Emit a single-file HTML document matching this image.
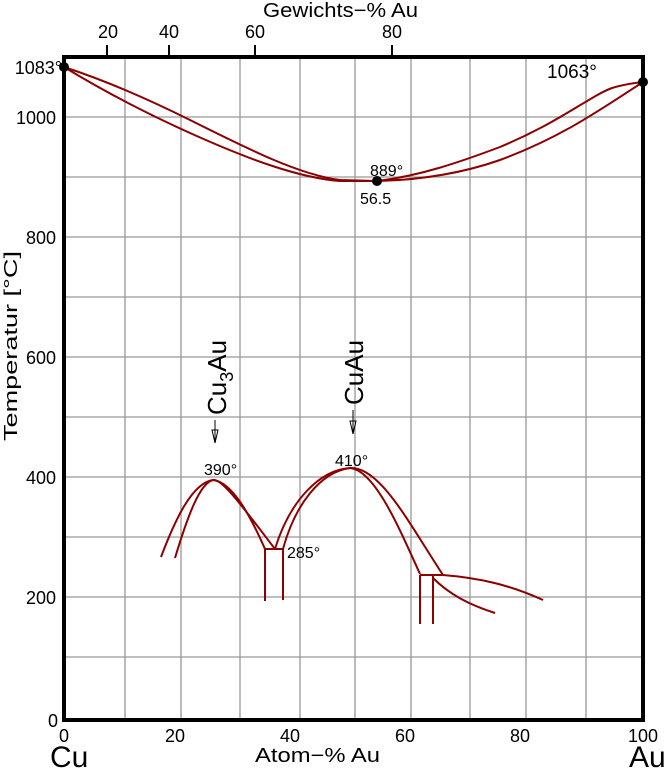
<!DOCTYPE html>
<html><head><meta charset="utf-8"><style>
body{margin:0;background:#fff}
svg{display:block;font-family:"Liberation Sans",sans-serif}
</style></head><body>
<svg width="672" height="768" viewBox="0 0 672 768" xmlns="http://www.w3.org/2000/svg">
<g stroke="#999" stroke-width="1.3">
<line x1="125" y1="57" x2="125" y2="720"/><line x1="181" y1="57" x2="181" y2="720"/>
<line x1="240" y1="57" x2="240" y2="720"/><line x1="300" y1="57" x2="300" y2="720"/>
<line x1="355" y1="57" x2="355" y2="720"/><line x1="411" y1="57" x2="411" y2="720"/>
<line x1="470" y1="57" x2="470" y2="720"/><line x1="526" y1="57" x2="526" y2="720"/>
<line x1="586" y1="57" x2="586" y2="720"/>
<line x1="64" y1="117" x2="643" y2="117"/><line x1="64" y1="177" x2="643" y2="177"/>
<line x1="64" y1="237" x2="643" y2="237"/><line x1="64" y1="297" x2="643" y2="297"/>
<line x1="64" y1="357" x2="643" y2="357"/><line x1="64" y1="417" x2="643" y2="417"/>
<line x1="64" y1="477" x2="643" y2="477"/><line x1="64" y1="537" x2="643" y2="537"/>
<line x1="64" y1="597" x2="643" y2="597"/><line x1="64" y1="657" x2="643" y2="657"/>
</g>
<g fill="none" stroke="#8b0000" stroke-width="2">
<path d="M64,67 C110,82 150,100 190,120 C250,150 300,175 340,180 L377,181"/>
<path d="M64,67 C110,95 150,115 190,133 C250,160 300,178 340,181 L377,181"/>
<path d="M377,181 C420,176 460,162 500,147 C560,122 590,96 612,88 C625,84 635,83 643,82"/>
<path d="M377,181 C420,180 460,174 500,160 C560,138 600,110 643,82"/>
<path d="M161,557 C175,520 192,483 213,480 C232,482 250,515 265,549"/>
<path d="M175,558 C188,515 200,483 213,480 C222,478 245,510 275,549"/>
<path d="M265,549 L283,549 M265,549 L265,601 M283,549 L283,600"/>
<path d="M275,549 C290,500 320,470 350,468 C375,470 400,530 420,574"/>
<path d="M283,549 C295,505 320,472 350,468 C380,466 410,525 443,575"/>
<path d="M420,575 L443,575 M420,575 L420,624 M433,575 L433,624"/>
<path d="M443,575 C480,578 510,585 543,600"/>
<path d="M433,578 C450,595 470,605 495,613"/>
</g>
<g fill="none" stroke="#000" stroke-width="1">
<path d="M215,420 L215,443 M212,430 L215,443 L218,430 Z"/>
<path d="M353,410 L353,434 M350,421 L353,434 L356,421 Z"/>
</g>
<rect x="64" y="57" width="579" height="663" fill="none" stroke="#000" stroke-width="4"/>
<g stroke="#000" stroke-width="2"><line x1="107" y1="45" x2="107" y2="57"/><line x1="169" y1="45" x2="169" y2="57"/><line x1="255" y1="45" x2="255" y2="57"/><line x1="392" y1="45" x2="392" y2="57"/></g>
<circle cx="64" cy="67" r="5"/><circle cx="377" cy="181" r="5"/><circle cx="643" cy="82" r="5"/>
<g font-size="18" fill="#000">
<text x="263" y="17" font-size="20" textLength="155" lengthAdjust="spacingAndGlyphs">Gewichts−% Au</text>
<text x="108" y="38" text-anchor="middle">20</text><text x="169" y="38" text-anchor="middle">40</text>
<text x="255" y="38" text-anchor="middle">60</text><text x="392" y="38" text-anchor="middle">80</text>
<g text-anchor="end"><text x="62" y="74">1083°</text><text x="56" y="124">1000</text><text x="56" y="244">800</text>
<text x="56" y="364">600</text><text x="56" y="484">400</text><text x="56" y="604">200</text><text x="58" y="727">0</text></g>
<text x="547" y="78" font-size="19">1063°</text>
<g text-anchor="middle"><text x="64" y="742">0</text><text x="175" y="742">20</text><text x="290" y="742">40</text>
<text x="405" y="742">60</text><text x="520" y="742">80</text><text x="643" y="742">100</text></g>
<text x="255" y="762" font-size="20" textLength="125" lengthAdjust="spacingAndGlyphs">Atom−% Au</text>
<text x="0" y="0" font-size="18" textLength="190" lengthAdjust="spacingAndGlyphs" transform="translate(17,441) rotate(-90)">Temperatur [°C]</text>
</g>
<g font-size="16"><text x="370" y="176">889°</text><text x="360" y="204">56.5</text>
<text x="204" y="475">390°</text><text x="335" y="466">410°</text><text x="287" y="558">285°</text></g>
<g font-size="30"><text x="50" y="767">Cu</text><text x="629" y="767">Au</text></g>
<text transform="translate(226,415) rotate(-90)" font-size="26">Cu<tspan font-size="18" dy="7">3</tspan><tspan dy="-7">Au</tspan></text>
<text transform="translate(363,405) rotate(-90)" font-size="26">CuAu</text>
</svg>
</body></html>
